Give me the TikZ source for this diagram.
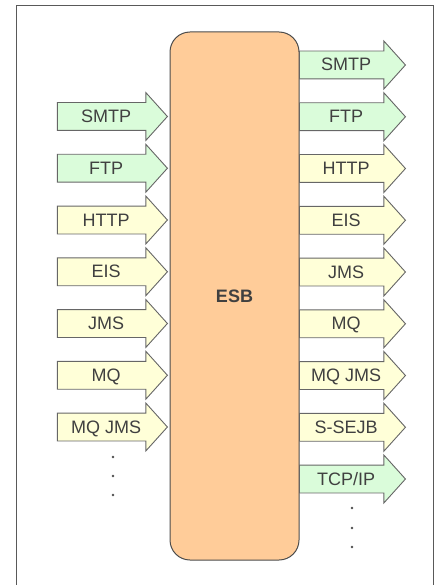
\documentclass[tikz,border=0pt]{standalone}
\usepackage{fontspec}
\setmainfont{Liberation Sans}
\usepackage{xcolor}
\usepackage{tikz}
\usetikzlibrary{shapes.arrows, arrows}
\definecolor{protgreen}{RGB}{218,252,218}
\definecolor{protyellow}{RGB}{255,255,216}
\definecolor{busorange}{RGB}{255,204,153}
\tikzstyle{port} = [single arrow, single arrow head extend=10pt, single arrow tip angle=96, text height=13pt, text depth=1pt, inner ysep=6.5pt, inner xsep=2pt, draw=black!60, line width=0.9pt, text=black!75, font=\fontsize{18}{20}\selectfont]
\tikzstyle{inport} = [port, minimum height=110pt]
\tikzstyle{outport} = [port, minimum height=106pt]
\tikzstyle{bus} = [rectangle, rounded corners=20pt, minimum width=129pt, minimum height=528pt, draw=black!70, line width=1pt, fill=busorange, text=black!75, font=\fontsize{18}{20}\selectfont\bfseries]

\begin{document}
\begin{tikzpicture}[x=1pt, y=-1pt, node distance=51.75pt]
    \tikzset{netport/.style = {fill=protgreen},
    appport/.style = {fill=protyellow},
    frame/.style = {draw=black!65, line width=1pt},
    moredot/.style = {fill=black!70}}

\useasboundingbox (0,0) rectangle (440,585);
\draw [frame] (16,6) rectangle (433,592);

\node (esb) [bus] at (234.5,296) {ESB};

% inbound
\node (inSmtp) [inport, netport, anchor=tip] at (168,116.5) {SMTP};
\node (inFtp) [inport, netport, below of=inSmtp] {FTP};
\node (inHttp) [inport, appport, below of=inFtp] {HTTP};
\node (inEis) [inport, appport, below of=inHttp] {EIS};
\node (inJms) [inport, appport, below of=inEis] {JMS};
\node (inMq) [inport, appport, below of=inJms] {MQ};
\node (inMqJms) [inport, appport, below of=inMq] {MQ JMS};
\fill [moredot] (113,457) circle (1.3pt);
\fill [moredot] (113,476) circle (1.3pt);
\fill [moredot] (113,495) circle (1.3pt);

% outbound
\node (outSmtp) [outport, netport, anchor=tail] at (299,65) {SMTP};
\node (outFtp) [outport, netport, below of=outSmtp] {FTP};
\node (outHttp) [outport, appport, below of=outFtp] {HTTP};
\node (outEis) [outport, appport, below of=outHttp] {EIS};
\node (outJms) [outport, appport, below of=outEis] {JMS};
\node (outMq) [outport, appport, below of=outJms] {MQ};
\node (outMqJms) [outport, appport, below of=outMq] {MQ JMS};
\node (outSsejb) [outport, appport, below of=outMqJms] {S-SEJB};
\node (outTcpip) [outport, netport, below of=outSsejb] {TCP/IP};
\fill [moredot] (352,508) circle (1.3pt);
\fill [moredot] (352,528) circle (1.3pt);
\fill [moredot] (352,547) circle (1.3pt);

\end{tikzpicture}
\end{document}
